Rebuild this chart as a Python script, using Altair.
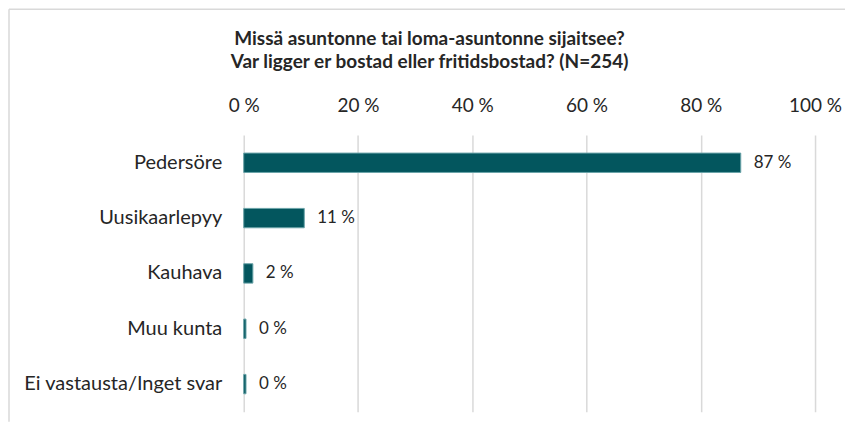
import altair as alt
import pandas as pd

categories = ["Pedersöre", "Uusikaarlepyy", "Kauhava", "Muu kunta", "Ei vastausta/Inget svar"]
values = [87.0, 10.6, 1.6, 0.4, 0.4]
tick_values = [0, 20, 40, 60, 80, 100]
title_lines = ["Missä asuntonne tai loma-asuntonne sijaitsee?", "Var ligger er bostad eller fritidsbostad? (N=254)"]

df = pd.DataFrame({"category": categories, "value": values})

FONT = "Lato"
TXT = "#262626"
W, H = 572, 277

y_enc = alt.Y("category:N", sort=categories, title=None,
              scale=alt.Scale(paddingInner=0.65, paddingOuter=0.325),
              axis=alt.Axis(labelFontSize=20, labelColor=TXT, labelFont=FONT, labelLimit=400,
                            labelPadding=22, ticks=False, domain=False, grid=False))
x_enc = alt.X("value:Q", title=None, scale=alt.Scale(domain=[0, 100]),
              axis=alt.Axis(orient="top", values=tick_values, labelExpr="datum.value + ' %'",
                            labelFontSize=19, labelColor=TXT, labelFont=FONT, labelFlush=False,
                            labelPadding=20, ticks=False, domain=False,
                            grid=True, gridColor="#d9d9d9", gridWidth=1.5))

frame = pd.DataFrame({"f": [0]})
left_line = alt.Chart(frame).mark_rule(color="#d9d9d9", strokeWidth=1.5).encode(
    x=alt.value(-235), y=alt.value(-126), y2=alt.value(287))
top_line = alt.Chart(frame).mark_rule(color="#d9d9d9", strokeWidth=1.5).encode(
    x=alt.value(-235), x2=alt.value(602), y=alt.value(-126))

title = alt.Chart(frame).mark_text(
    text=title_lines, font=FONT, fontSize=19, fontWeight="bold", color=TXT,
    align="center", baseline="top", lineHeight=23
).encode(x=alt.value(186), y=alt.value(-105))

bars = alt.Chart(df).mark_bar(color="#03565E", stroke="#6aa4a9", strokeWidth=1).encode(
    x=x_enc, y=y_enc)

labels = alt.Chart(df).transform_calculate(
    label="format(datum.value, '.0f') + ' %'"
).mark_text(align="left", baseline="middle", dx=13, fontSize=17, font=FONT, color=TXT).encode(
    x="value:Q", y=alt.Y("category:N", sort=categories), text="label:N")

chart = alt.layer(left_line, top_line, title, bars, labels).properties(
    width=W, height=H,
    padding=0,
).configure_view(stroke=None)

chart.save("out.html", embed_options={"renderer": "svg", "actions": False})
